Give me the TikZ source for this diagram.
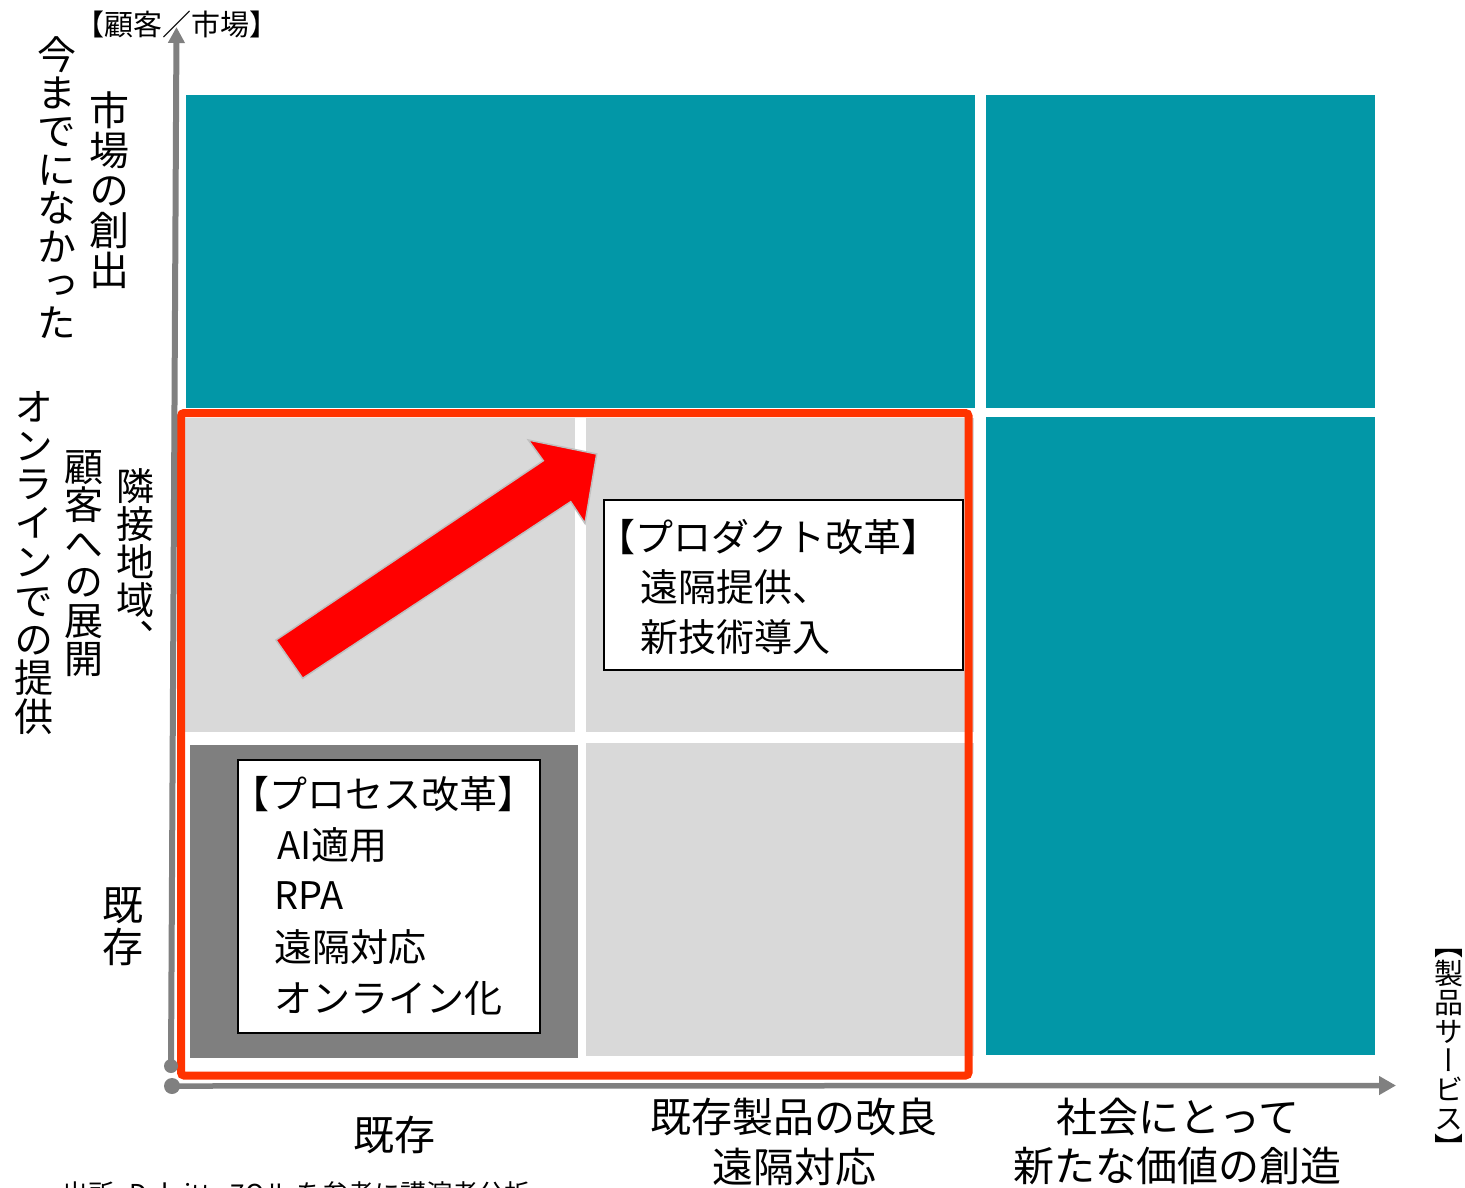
\documentclass[tikz,border=0pt]{standalone}
\usepackage{fontspec}
\setmainfont{Noto Sans CJK JP}
\newfontfamily\vjp[RawFeature=+vert]{Noto Sans CJK JP}
\usetikzlibrary{arrows.meta}
\definecolor{tealq}{RGB}{2,151,167}
\definecolor{lgrayq}{RGB}{217,217,217}
\definecolor{dgrayq}{RGB}{127,127,127}
\definecolor{axisq}{RGB}{128,128,128}
\definecolor{frameq}{RGB}{255,51,0}
\definecolor{arrowq}{RGB}{255,0,0}
\definecolor{arrowlineq}{RGB}{191,191,191}
\newcommand\fsz[1]{\fontsize{#1}{#1}\selectfont}
\newcommand\vfsz[2]{\vjp\fontsize{#1}{#2}\selectfont}
\tikzset{
  axis/.style={draw=axisq, line width=6},
  wbox/.style={draw=black, fill=white, line width=1.5, inner sep=0, anchor=north west},
  btxt/.style={inner sep=0, anchor=west, font=\fsz{38}},
  vtxt/.style={inner sep=0, anchor=north, align=center},
  ltxt/.style={inner sep=0, font=\fsz{41}},
}
\begin{document}
\begin{tikzpicture}[x=1pt,y=-1pt]
\useasboundingbox (0,0) rectangle (1465,1187);
\fill[white] (0,0) rectangle (1465,1187);
% teal cells
\fill[tealq] (186,95) rectangle (975,408);
\fill[tealq] (986,95) rectangle (1375,408);
\fill[tealq] (986,417) rectangle (1375,1055);
% gray cells
\fill[lgrayq] (185,418) rectangle (575,732);
\fill[lgrayq] (586,418) rectangle (974,732);
\fill[dgrayq] (190,745) rectangle (578,1058);
\fill[lgrayq] (586,743) rectangle (974,1056);
% red frame
\draw[frameq, line width=8, rounded corners=3] (181,413) rectangle (968.5,1075.5);
% axes
\coordinate (yo) at (171,1066);
\coordinate (yt) at (176.5,27);
\coordinate (xo) at (172,1086);
\coordinate (xt) at (1396,1085.5);
\draw[axis, -{Triangle[width=16,length=16]}] (yo) -- (yt);
\draw[axis, line width=5.5, -{Triangle[width=18,length=17]}] (xo) -- (xt);
\fill[axisq] (yo) circle (7);
\fill[axisq] (xo) circle (8);
% big arrow
\filldraw[fill=arrowq, draw=arrowlineq, line width=1.5, line join=miter]
  (276,640) -- (302.7,678.3) -- (570.7,501.7) -- (585,523.3) -- (596.7,454)
  -- (528.3,440) -- (543.3,460.7) -- cycle;
% product box
\node[wbox, minimum width=359, minimum height=170] (prod) at (603,499) {};
\node[btxt] (p1) at (597,537) {【プロダクト改革】};
\node[btxt] (p2) at (640,587) {遠隔提供、};
\node[btxt] (p3) at (640,637) {新技術導入};
% process box
\node[wbox, minimum width=302, minimum height=273] (proc) at (237,759) {};
\node[btxt] (q1) at (231,794) {【プロセス改革】};
\node[btxt] (q2) at (277,845) {AI適用};
\node[btxt] (q3) at (274,896) {RPA};
\node[btxt] (q4) at (274,947) {遠隔対応};
\node[btxt] (q5) at (274,998) {オンライン化};
% axis titles
\node[inner sep=0, font=\fsz{29}] (ytitle) at (177,24) {【顧客／市場】};
\node[vtxt, font=\vfsz{29}{29}] (xtitle) at (1449,949) {【\\製\\品\\サ\\ー\\ビ\\ス\\】};
% left labels
\node[vtxt, font=\vfsz{39}{38.4}] (l1) at (57,36) {今\\ま\\で\\に\\な\\か\\っ\\た};
\node[vtxt, font=\vfsz{40}{40}] (l2) at (109,91) {市\\場\\の\\創\\出};
\node[vtxt, font=\vfsz{39}{38.8}] (l3) at (34,391) {オ\\ン\\ラ\\イ\\ン\\で\\の\\提\\供};
\node[vtxt, font=\vfsz{39}{38.5}] (l4) at (84,450) {顧\\客\\へ\\の\\展\\開};
\node[vtxt, font=\vfsz{38}{38}] (l5) at (135,468) {隣\\接\\地\\域\\、};
\node[vtxt, font=\vfsz{41}{42}] (l6) at (123,887) {既\\存};
% bottom labels
\node[ltxt] (b1) at (394,1135) {既存};
\node[ltxt] (b2) at (794,1117) {既存製品の改良};
\node[ltxt] (b3) at (794,1167) {遠隔対応};
\node[ltxt] (b4) at (1178,1117) {社会にとって};
\node[ltxt] (b5) at (1177,1166) {新たな価値の創造};
% source (cut off in the reference)
\node[inner sep=0, anchor=west, font=\fsz{26}] (src) at (62,1194) {出所: Deloitte 7Oル を参考に講演者分析};
\end{tikzpicture}
\end{document}
